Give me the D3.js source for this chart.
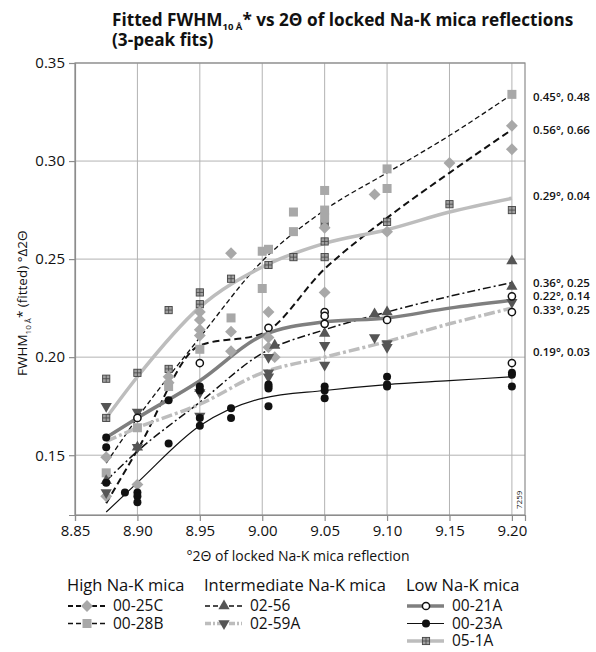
<!DOCTYPE html>
<html>
<head>
<meta charset="utf-8">
<script src="https://cdn.jsdelivr.net/npm/d3@7"></script>
<style>
  body { margin: 0; background: #fff; }
  text { font-family: "Open Sans", sans-serif; fill: #111; }
</style>
</head>
<body>
<div id="chart"></div>
<script>
// chart size
const margin = { top: 63, right: 71, bottom: 137, left: 75 };
const width = 596 - margin.left - margin.right;
const height = 652 - margin.top - margin.bottom;

// axis ticks
const xTicks = [8.85, 8.90, 8.95, 9.00, 9.05, 9.10, 9.15, 9.20];
const yTicks = [0.15, 0.20, 0.25, 0.30, 0.35];

// measured points [2theta, fwhm]
const pts25C = [[8.875, 0.149], [8.875, 0.129], [8.90, 0.135], [8.925, 0.190], [8.925, 0.187],
  [8.95, 0.223], [8.95, 0.219], [8.95, 0.214], [8.95, 0.211], [8.975, 0.253], [8.975, 0.213], [8.975, 0.203],
  [9.005, 0.223], [9.005, 0.210], [9.005, 0.205], [9.01, 0.200], [9.05, 0.266], [9.05, 0.233],
  [9.09, 0.283], [9.10, 0.264], [9.15, 0.299], [9.20, 0.318], [9.20, 0.306]];
const pts28B = [[8.875, 0.141], [8.90, 0.164], [8.925, 0.185], [8.95, 0.204], [8.975, 0.220],
  [9.00, 0.254], [9.00, 0.235], [9.005, 0.255], [9.025, 0.274], [9.025, 0.264],
  [9.05, 0.285], [9.05, 0.275], [9.05, 0.271], [9.10, 0.296], [9.10, 0.286], [9.20, 0.334]];
const pts56 = [[8.875, 0.137], [8.90, 0.154], [8.95, 0.184], [9.01, 0.206], [9.05, 0.212],
  [9.09, 0.222], [9.10, 0.223], [9.20, 0.249], [9.20, 0.236]];
const pts59A = [[8.875, 0.175], [8.875, 0.131], [8.90, 0.172], [8.90, 0.154], [8.95, 0.182], [8.95, 0.170],
  [9.005, 0.200], [9.005, 0.192], [9.005, 0.190], [9.05, 0.206], [9.05, 0.196],
  [9.09, 0.210], [9.10, 0.207], [9.10, 0.205], [9.20, 0.228]];
const pts21A = [[8.90, 0.169], [8.95, 0.197], [9.005, 0.215], [9.05, 0.223], [9.05, 0.221], [9.05, 0.217],
  [9.10, 0.219], [9.20, 0.231], [9.20, 0.223], [9.20, 0.197]];
const pts23A = [[8.875, 0.159], [8.875, 0.154], [8.875, 0.136], [8.89, 0.131], [8.90, 0.131], [8.90, 0.129], [8.90, 0.126],
  [8.925, 0.178], [8.925, 0.156], [8.95, 0.185], [8.95, 0.183], [8.95, 0.169], [8.95, 0.165],
  [8.975, 0.174], [8.975, 0.169], [9.005, 0.186], [9.005, 0.185], [9.005, 0.184], [9.005, 0.175],
  [9.05, 0.185], [9.05, 0.183], [9.05, 0.179], [9.10, 0.190], [9.10, 0.186], [9.10, 0.185],
  [9.20, 0.192], [9.20, 0.191], [9.20, 0.185]];
const pts051A = [[8.875, 0.189], [8.875, 0.169], [8.90, 0.192], [8.925, 0.224], [8.925, 0.194],
  [8.95, 0.233], [8.95, 0.227], [8.975, 0.240], [9.005, 0.247], [9.025, 0.251],
  [9.05, 0.268], [9.05, 0.259], [9.05, 0.251], [9.10, 0.269], [9.15, 0.278], [9.20, 0.275]];

// fitted curves
const fitX = [8.875, 8.90, 8.95, 9.00, 9.05, 9.10, 9.15, 9.20];
const fit25C = [0.1255, 0.1526, 0.206, 0.212, 0.245, 0.271, 0.294, 0.316];
const fit28B = [0.146, 0.169, 0.210, 0.249, 0.275, 0.294, 0.313, 0.334];
const fit56 = [0.137, 0.152, 0.177, 0.202, 0.214, 0.223, 0.231, 0.238];
const fit59A = [0.157, 0.164, 0.176, 0.192, 0.200, 0.208, 0.217, 0.225];
const fit21A = [0.159, 0.169, 0.188, 0.211, 0.218, 0.220, 0.225, 0.229];
const fit23A = [0.121, 0.136, 0.165, 0.179, 0.183, 0.186, 0.188, 0.190];
const fit051A = [0.169, 0.190, 0.2255, 0.246, 0.258, 0.265, 0.274, 0.281];

// labels at right end
const endLabels = ["0.45°, 0.48", "0.56°, 0.66", "0.29°, 0.04", "0.36°, 0.25", "0.22°, 0.14", "0.33°, 0.25", "0.19°, 0.03"];
const endLabelY = [0.3325, 0.316, 0.282, 0.238, 0.231, 0.224, 0.2025];

const series = [
  { name: "00-25C", pts: pts25C, fit: fit25C, stroke: "#111", sw: 2, dash: "7,4", mark: "diamond" },
  { name: "00-28B", pts: pts28B, fit: fit28B, stroke: "#111", sw: 1.3, dash: "5,3", mark: "square" },
  { name: "02-56", pts: pts56, fit: fit56, stroke: "#111", sw: 1.5, dash: "8,3,2,3", mark: "triUp" },
  { name: "02-59A", pts: pts59A, fit: fit59A, stroke: "#bdbdbd", sw: 3.5, dash: "11,3,3,3", mark: "triDown" },
  { name: "00-21A", pts: pts21A, fit: fit21A, stroke: "#7f7f7f", sw: 3.5, dash: null, mark: "open" },
  { name: "00-23A", pts: pts23A, fit: fit23A, stroke: "#111", sw: 1.2, dash: null, mark: "dot" },
  { name: "05-1A", pts: pts051A, fit: fit051A, stroke: "#bdbdbd", sw: 3.5, dash: null, mark: "grid" }
];

const svg = d3.select("#chart").append("svg")
  .attr("width", 596).attr("height", 652);

const g = svg.append("g").attr("transform", `translate(${margin.left},${margin.top})`);

const x = d3.scaleLinear().domain([8.85, 9.2105]).range([0, width]);
const y = d3.scaleLinear().domain([0.1195, 0.35]).range([height, 0]);

// grid
g.append("g").selectAll("line").data(xTicks.slice(1)).join("line")
  .attr("x1", d => x(d)).attr("x2", d => x(d)).attr("y1", 0).attr("y2", height)
  .attr("stroke", "#b3b3b3").attr("stroke-width", 1);
g.append("g").selectAll("line").data(yTicks).join("line")
  .attr("x1", 0).attr("x2", width).attr("y1", d => y(d)).attr("y2", d => y(d))
  .attr("stroke", "#b3b3b3").attr("stroke-width", 1);

// frame
g.append("rect").attr("width", width).attr("height", height)
  .attr("fill", "none").attr("stroke", "#8c8c8c").attr("stroke-width", 1.2);

// axes
const xAxis = g.append("g").attr("transform", `translate(0,${height})`)
  .call(d3.axisBottom(x).tickValues(xTicks).tickFormat(d3.format(".2f")).tickSize(6).tickPadding(4));
const yAxis = g.append("g")
  .call(d3.axisLeft(y).tickValues(yTicks).tickFormat(d3.format(".2f")).tickSize(6).tickPadding(4));
[xAxis, yAxis].forEach(a => {
  a.select(".domain").attr("stroke", "#8c8c8c").attr("stroke-width", 1.2);
  a.selectAll(".tick line").attr("stroke", "#8c8c8c").attr("stroke-width", 1.2);
  a.selectAll(".tick text").style("font-family", "Open Sans").style("font-size", "15px").attr("fill", "#222");
});

// fitted lines
const line = d3.line().x((d, i) => x(fitX[i])).y(d => y(d)).curve(d3.curveMonotoneX);
series.forEach(s => {
  g.append("path").datum(s.fit)
    .attr("fill", "none")
    .attr("stroke", s.stroke)
    .attr("stroke-width", s.sw)
    .attr("stroke-dasharray", s.dash)
    .attr("d", line);
});

// markers
function drawMark(sel, type, px, py) {
  if (type == "diamond") {
    sel.append("rect").attr("x", -4.2).attr("y", -4.2).attr("width", 8.4).attr("height", 8.4)
      .attr("fill", "#a8a8a8").attr("transform", `translate(${px},${py}) rotate(45)`);
  } else if (type == "square") {
    sel.append("rect").attr("x", px - 4.5).attr("y", py - 4.5).attr("width", 9).attr("height", 9)
      .attr("fill", "#a8a8a8");
  } else if (type == "triUp" || type == "triDown") {
    sel.append("path").attr("d", d3.symbol(d3.symbolTriangle, 55)())
      .attr("fill", "#555")
      .attr("transform", `translate(${px},${py})` + (type == "triDown" ? " rotate(180)" : ""));
  } else if (type == "open") {
    sel.append("circle").attr("cx", px).attr("cy", py).attr("r", 3.6)
      .attr("fill", "#fff").attr("stroke", "#111").attr("stroke-width", 1.5);
  } else if (type == "dot") {
    sel.append("circle").attr("cx", px).attr("cy", py).attr("r", 4)
      .attr("fill", "#111");
  } else if (type == "grid") {
    sel.append("rect").attr("x", px - 3.6).attr("y", py - 3.6).attr("width", 7.2).attr("height", 7.2)
      .attr("fill", "#a0a0a0").attr("stroke", "#444").attr("stroke-width", 0.9);
    sel.append("path").attr("d", `M${px - 3.6},${py}H${px + 3.6}M${px},${py - 3.6}V${py + 3.6}`)
      .attr("stroke", "#444").attr("stroke-width", 0.8);
  }
}

const order = ["05-1A", "00-28B", "00-25C", "02-59A", "02-56", "00-23A", "00-21A"];
order.forEach(n => {
  const s = series.find(d => d.name == n);
  const mg = g.append("g");
  s.pts.forEach(p => drawMark(mg, s.mark, x(p[0]), y(p[1])));
});

// end labels
g.append("g").selectAll("text").data(endLabels).join("text")
  .attr("x", width + 8)
  .attr("y", (d, i) => y(endLabelY[i]))
  .attr("dy", "0.35em")
  .style("font-size", "11.5px").style("font-weight", 600)
  .text(d => d);

// small id number
g.append("text")
  .attr("transform", `translate(${width - 3},${height - 6}) rotate(-90)`)
  .style("font-size", "8px")
  .text("7259");

// title
const title = svg.append("text").attr("x", 112).attr("y", 26)
  .style("font-size", "17.2px").style("font-weight", 700);
title.append("tspan").text("Fitted FWHM");
title.append("tspan").attr("dy", 4).style("font-size", "9.5px").text("10 Å");
title.append("tspan").attr("dy", -4).text("* vs 2Θ of locked Na-K mica reflections");
svg.append("text").attr("x", 112).attr("y", 46)
  .style("font-size", "17.2px").style("font-weight", 700)
  .text("(3-peak fits)");

// y label
const yl = svg.append("text")
  .attr("transform", `translate(27,${margin.top + y(0.2275)}) rotate(-90)`)
  .attr("text-anchor", "middle")
  .style("font-size", "13.5px");
yl.append("tspan").text("FWHM");
yl.append("tspan").attr("dy", 4).style("font-size", "8px").text("10 Å");
yl.append("tspan").attr("dy", -4).text("* (fitted) °Δ2Θ");

// x label
svg.append("text")
  .attr("x", margin.left + width / 2 - 2).attr("y", 561)
  .attr("text-anchor", "middle")
  .style("font-size", "14px")
  .text("°2Θ of locked Na-K mica reflection");

// legend
const legendGroups = [
  { title: "High Na-K mica", x: 67, items: ["00-25C", "00-28B"] },
  { title: "Intermediate Na-K mica", x: 204, items: ["02-56", "02-59A"] },
  { title: "Low Na-K mica", x: 406, items: ["00-21A", "00-23A", "05-1A"] }
];
const legend = svg.append("g");
legendGroups.forEach(lg => {
  legend.append("text").attr("x", lg.x).attr("y", 591)
    .style("font-size", "16.5px").text(lg.title);
  lg.items.forEach((n, i) => {
    const s = series.find(d => d.name == n);
    const yy = 606 + i * 17.5;
    legend.append("line")
      .attr("x1", lg.x + 1).attr("x2", lg.x + 38).attr("y1", yy).attr("y2", yy)
      .attr("stroke", s.stroke).attr("stroke-width", s.sw)
      .attr("stroke-dasharray", s.dash ? (s.sw > 2 ? "6,2,2,2" : "5,3") : null);
    drawMark(legend.append("g"), s.mark, lg.x + 20, yy);
    legend.append("text").attr("x", lg.x + 46).attr("y", yy).attr("dy", "0.34em")
      .style("font-size", "15.5px").text(n);
  });
});
</script>
</body>
</html>
